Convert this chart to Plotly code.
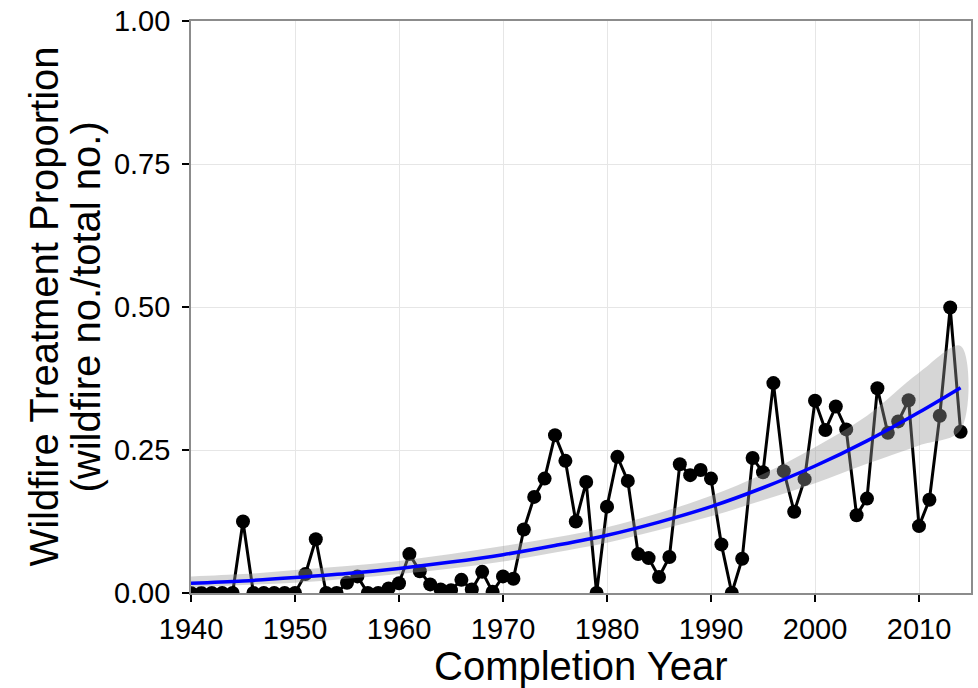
import plotly.graph_objects as go

# Annual wildfire treatment proportion (wildfire no. / total no.)
years = list(range(1940, 2015))
proportion = [
    0.000, 0.000, 0.000, 0.000, 0.000, 0.125, 0.000, 0.000, 0.000, 0.000,  # 1940s
    0.000, 0.033, 0.094, 0.000, 0.000, 0.018, 0.029, 0.000, 0.000, 0.008,  # 1950s
    0.017, 0.068, 0.038, 0.015, 0.006, 0.005, 0.023, 0.006, 0.037, 0.002,  # 1960s
    0.029, 0.025, 0.111, 0.168, 0.200, 0.276, 0.231, 0.125, 0.194, 0.000,  # 1970s
    0.151, 0.238, 0.196, 0.068, 0.061, 0.028, 0.063, 0.225, 0.206, 0.215,  # 1980s
    0.200, 0.085, 0.000, 0.060, 0.236, 0.211, 0.367, 0.213, 0.142, 0.199,  # 1990s
    0.336, 0.285, 0.326, 0.286, 0.136, 0.165, 0.358, 0.280, 0.300, 0.337,  # 2000s
    0.117, 0.163, 0.310, 0.499, 0.282,                                      # 2010s
]

# Fitted trend with its confidence band
fit_years = [1940, 1945, 1950, 1955, 1960, 1965, 1970, 1975, 1980,
             1985, 1990, 1995, 2000, 2005, 2010, 2014]
fit_mid = [0.017, 0.021, 0.027, 0.034, 0.043, 0.054, 0.067, 0.083, 0.101,
           0.124, 0.151, 0.184, 0.222, 0.266, 0.316, 0.359]
fit_low = [0.010, 0.014, 0.018, 0.025, 0.033, 0.043, 0.055, 0.071, 0.088,
           0.110, 0.134, 0.162, 0.192, 0.226, 0.258, 0.285]
fit_high = [0.029, 0.033, 0.040, 0.047, 0.056, 0.068, 0.082, 0.097, 0.115,
            0.140, 0.170, 0.208, 0.255, 0.310, 0.385, 0.432]

x_ticks = [1940, 1950, 1960, 1970, 1980, 1990, 2000, 2010]
y_ticks = [0.0, 0.25, 0.5, 0.75, 1.0]
y_tick_text = ["0.00", "0.25", "0.50", "0.75", "1.00"]

FONT = "Liberation Sans, Arial, sans-serif"

fig = go.Figure()

fig.add_trace(go.Scatter(
    x=years, y=proportion, mode="lines+markers",
    line=dict(color="black", width=3),
    marker=dict(color="black", size=14),
    showlegend=False, hoverinfo="x+y",
))

fig.add_trace(go.Scatter(
    x=fit_years + fit_years[::-1],
    y=fit_high + fit_low[::-1],
    fill="toself", fillcolor="rgba(153,153,153,0.4)",
    line=dict(width=0, shape="spline"),
    mode="lines", showlegend=False, hoverinfo="skip",
))

fig.add_trace(go.Scatter(
    x=fit_years, y=fit_mid, mode="lines",
    line=dict(color="#0000ff", width=3.5, shape="spline"),
    showlegend=False, hoverinfo="x+y",
))

axis_common = dict(
    showgrid=True, gridcolor="#e6e6e6", gridwidth=1,
    showline=True, linecolor="#8c8c8c", linewidth=1.6, mirror=True,
    ticks="outside", ticklen=7, tickwidth=1.5, tickcolor="black",
    tickfont=dict(family=FONT, size=29, color="black"),
    zeroline=False,
)

fig.update_xaxes(
    range=[1940, 2015], tickvals=x_ticks, ticklabelstandoff=2,
    **axis_common,
)
fig.update_yaxes(
    range=[0, 1], tickvals=y_ticks, ticktext=y_tick_text, ticklabelstandoff=6,
    **axis_common,
)

fig.update_layout(
    width=978, height=688,
    margin=dict(l=191, r=5, t=16, b=95),
    paper_bgcolor="white", plot_bgcolor="white",
    font=dict(family=FONT, color="black"),
    annotations=[
        dict(text="Completion Year", x=0.5, xref="paper",
             y=-0.128, yref="paper", yanchor="middle",
             showarrow=False, font=dict(family=FONT, size=40, color="black")),
        dict(text="Wildfire Treatment Proportion", x=-0.189, xref="paper",
             y=0.5, yref="paper", textangle=-90, xanchor="center",
             showarrow=False, font=dict(family=FONT, size=40, color="black")),
        dict(text="(wildfire no./total no.)", x=-0.134, xref="paper",
             y=0.5, yref="paper", textangle=-90, xanchor="center",
             showarrow=False, font=dict(family=FONT, size=40, color="black")),
    ],
)

fig.write_html("out.html")
